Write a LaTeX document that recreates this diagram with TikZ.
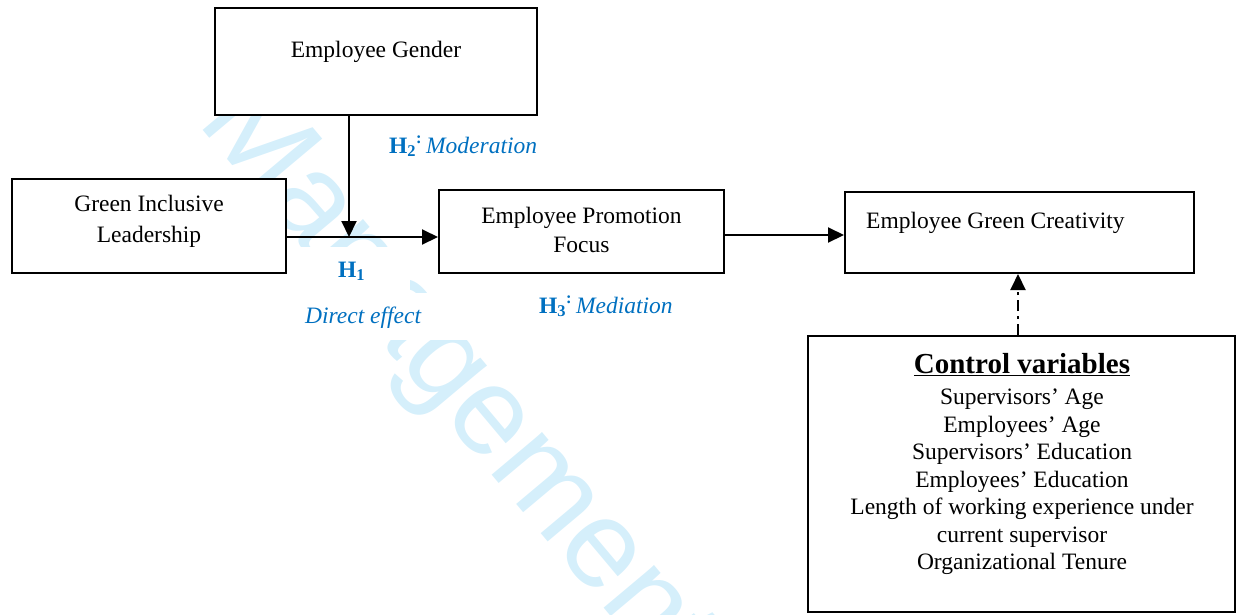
\documentclass[tikz,border=0pt]{standalone}
\usepackage{fontspec}
\setmainfont{Liberation Serif}
\newfontfamily\wmfont{Liberation Sans}
\usetikzlibrary{arrows.meta,calc}
\definecolor{lblue}{RGB}{0,112,192}
\definecolor{wmcyan}{RGB}{213,239,251}
\begin{document}
\begin{tikzpicture}[x=1pt,y=-1pt,
  box/.style={draw, line width=2pt, fill=white, inner sep=0pt},
  txt/.style={font=\fontsize{23.5}{30}\selectfont, inner sep=0pt, align=center},
  lab/.style={font=\fontsize{23.5}{28}\selectfont, text=lblue, inner sep=0pt},
  arr/.style={line width=2pt, -{Triangle[length=16pt,width=15pt]}},
  mask/.style={fill=white}
]
\useasboundingbox (0,0) rectangle (1236,614);
% watermark
\begin{scope}
\clip (0,0) rectangle (1236,614);
\node[font=\fontsize{125}{125}\selectfont\wmfont, text=wmcyan, rotate=-50,
      anchor=base west, inner sep=0pt] (wm) at (196,122) {Management};
\end{scope}
% masks behind label text boxes
\fill[mask] (295,247) rectangle (410,293);
\fill[mask] (290,293) rectangle (475,340);
% boxes
\node[box, minimum width=322pt, minimum height=107pt] (gen) at (376,61) {};
\node[txt, anchor=base] (gent) at (376,57) {Employee Gender};
\node[box, minimum width=274pt, minimum height=94pt] (gil) at (149,226) {};
\node[txt, font=\fontsize{23.5}{31}\selectfont] (gilt) at (149,221.7) {Green Inclusive\\Leadership};
\node[box, minimum width=285pt, minimum height=83pt] (epf) at (581.5,231.5) {};
\node[txt, font=\fontsize{23.5}{29}\selectfont] (epft) at (581.5,229.5) {Employee Promotion\\Focus};
\node[box, minimum width=349pt, minimum height=81pt] (egc) at (1019.5,232.5) {};
\node[txt, anchor=base west] (egct) at (866,228) {Employee Green Creativity};
\node[box, minimum width=427pt, minimum height=276pt] (cv) at (1021.5,474) {};
\node[txt, font=\fontsize{23.5}{27.5}\selectfont, anchor=north] (cvt) at (1022,353.4)
  {{\fontsize{29}{31}\selectfont\textbf{\underline{Control variables}}}\\[3.5pt]
   Supervisors’ Age\\
   Employees’ Age\\
   Supervisors’ Education\\
   Employees’ Education\\
   Length of working experience under\\
   current supervisor\\
   Organizational Tenure};
% labels
\node[lab, anchor=base west] (h2) at (389,153)
  {\textbf{H\textsubscript{2}}\textsuperscript{\textbf{:}}\,\textit{Moderation}};
\node[lab, anchor=base] (h1) at (351.5,277) {\textbf{H\textsubscript{1}}};
\node[lab, anchor=base west] (de) at (305,323) {\textit{Direct effect}};
\node[lab, anchor=base west] (h3) at (539,313)
  {\textbf{H\textsubscript{3}}\textsuperscript{\textbf{:}}\,\textit{Mediation}};
% connectors
\coordinate (j) at (349,237);
\coordinate (k) at (784,235);
\coordinate (c) at (1018,300);
\draw[arr] (j -| gil.east) -- (j -| epf.west);
\draw[arr] (gen.south -| j) -- (j);
\draw[arr] (k -| epf.east) -- (k -| egc.west);
\draw[arr, dash pattern=on 11pt off 5pt on 3pt off 5pt] (cv.north -| c) -- (egc.south -| c);
\end{tikzpicture}
\end{document}
